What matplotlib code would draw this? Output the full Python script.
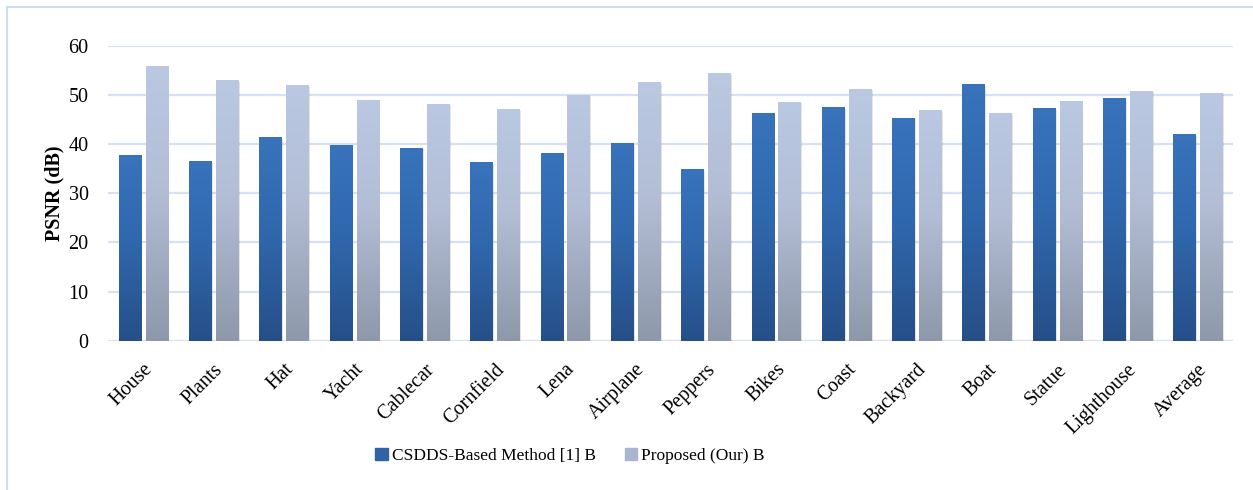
# PSNR 비교 막대그래프 (CSDDS vs Proposed)

import numpy as np
import matplotlib.pyplot as plt
import matplotlib
from matplotlib.patches import Rectangle
from matplotlib.colors import LinearSegmentedColormap

matplotlib.rcParams['font.family'] = ['Liberation Serif', 'DejaVu Serif']
matplotlib.rcParams['font.size'] = 14.5

# 데이터 정의
images = ['House', 'Plants', 'Hat', 'Yacht', 'Cablecar', 'Cornfield', 'Lena', 'Airplane',
          'Peppers', 'Bikes', 'Coast', 'Backyard', 'Boat', 'Statue', 'Lighthouse', 'Average']
csdds = [37.8, 36.5, 41.4, 39.8, 39.2, 36.3, 38.2, 40.2,
         34.9, 46.3, 47.5, 45.3, 52.2, 47.3, 49.4, 42.0]
proposed = [55.9, 53.0, 52.0, 49.0, 48.2, 47.1, 50.0, 52.6,
            54.4, 48.6, 51.2, 46.9, 46.3, 48.7, 50.8, 50.4]
yticks = [0, 10, 20, 30, 40, 50, 60]

# 막대 그라데이션 (위 -> 아래)
cmap_dark = LinearSegmentedColormap.from_list('dark', [(0, '#264f88'), (0.55, '#3068ae'), (1, '#3873bb')])
cmap_light = LinearSegmentedColormap.from_list('light', [(0, '#8d98aa'), (0.55, '#b3bed6'), (1, '#bac8e2')])

fig = plt.figure(figsize=(12.53, 4.9), dpi=100)
ax = fig.add_axes([108 / 1253, 1 - 340.7 / 490, 1125 / 1253, 295 / 490])

x = np.arange(len(images))
w = 0.313
off = (w + 0.07) / 2


def grad_bars(xpos, vals, cmap):
    bars = ax.bar(xpos, vals, width=w, color='none', zorder=3)
    for b in bars:
        x0, h = b.get_x(), b.get_height()
        # 오른쪽에 옅은 그림자
        ax.add_patch(Rectangle((x0 + 0.025, 0), w, h - 0.3, color='#000000', alpha=0.10, lw=0, zorder=2))
        grad = np.linspace(0, 1, 256).reshape(-1, 1)
        im = ax.imshow(grad, cmap=cmap, origin='lower', aspect='auto',
                       extent=(x0, x0 + w, 0, h), zorder=3)
        im.set_clip_path(b)
    return bars


grad_bars(x - off, csdds, cmap_dark)
grad_bars(x + off, proposed, cmap_light)

ax.set_xlim(-0.5, len(images) - 0.5)
ax.set_ylim(0, 60)
ax.set_yticks(yticks)
ax.yaxis.grid(True, color='#d6e2f2', lw=1.6, zorder=0)
ax.set_axisbelow(True)
for s in ax.spines.values():
    s.set_visible(False)
ax.tick_params(axis='both', length=0, colors='black')
ax.tick_params(axis='y', pad=14)
ax.set_xticks(x)
ax.set_xticklabels(images, rotation=45, ha='right', va='top', rotation_mode='anchor')
ax.tick_params(axis='x', pad=14)
ax.set_ylabel('PSNR (dB)', fontweight='bold', labelpad=3)

# 범례
h1 = Rectangle((0, 0), 1, 1, color='#2f63a6')
h2 = Rectangle((0, 0), 1, 1, color='#aab6cf')
fig.legend([h1, h2], ['CSDDS-Based Method [1] B', 'Proposed (Our) B'], loc='center',
           bbox_to_anchor=(570 / 1253, 1 - 456 / 490), ncol=2, frameon=False, fontsize=12.5,
           handlelength=0.7, handleheight=0.7, handletextpad=0.25, columnspacing=1.65)

# 차트 테두리
fig.patches.append(Rectangle((7 / 1253, -0.1), 1.2, 1 - 7 / 490 + 0.1, transform=fig.transFigure,
                             fill=False, edgecolor='#d0ddee', lw=1.5))

plt.savefig('out.png', dpi=100)
